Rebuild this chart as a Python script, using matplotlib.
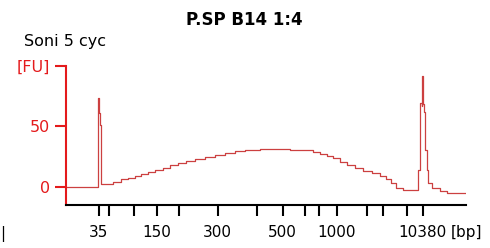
import numpy as np
from matplotlib import pyplot as plt

# ladder sizes (bp) and their migration times (s)
ladder_bp = [35, 50, 100, 150, 200, 300, 400, 500, 600, 700, 1000, 2000, 3000, 7000, 10380]
ladder_time = [46.5, 48.5, 53.6, 58.1, 62.5, 70.3, 78.1, 83.3, 87.7, 90.5, 94.1, 100.1, 103.3, 108.1, 111.3]
labelled_bp = [35, 150, 300, 500, 1000, 10380]

# electropherogram trace
trace_time = [40.0, 46.0, 46.3, 46.4, 46.5, 46.7, 46.9, 47.0, 49.4, 51.0, 52.4, 53.8,
              55.0, 56.4, 57.8, 59.4, 60.8, 62.4, 64.0, 65.8, 67.8, 69.8, 71.8, 73.8,
              75.8, 78.8, 84.8, 89.4, 90.8, 92.2, 93.4, 94.8, 96.2, 97.8, 99.4, 101.2,
              102.8, 104.0, 105.0, 106.0, 107.4, 110.0, 110.3, 110.7, 111.1, 111.25,
              111.4, 111.65, 111.85, 112.15, 112.45, 113.2, 114.8, 116.2, 120.0]
trace_fu = [0.2, 0.3, 15.6, 73.3, 61.0, 51.0, 49.6, 2.0, 4.3, 6.1, 7.4, 9.0,
            10.7, 12.3, 14.0, 16.0, 17.7, 19.4, 21.0, 22.7, 24.7, 26.4, 28.1, 29.3,
            30.5, 31.1, 30.1, 28.9, 27.3, 25.6, 23.6, 20.7, 18.2, 15.6, 13.2, 11.1,
            9.0, 6.1, 3.2, -0.9, -3.0, -2.5, 14.0, 69.0, 67.0, 91.7,
            68.5, 61.9, 30.5, 14.0, 3.2, -1.2, -3.4, -4.8, -4.8]

axis_red = '#e41a1c'
trace_red = '#cc4040'

fig = plt.figure(figsize=(4.9, 2.48), dpi=100)
ax = fig.add_axes([66 / 490, 1 - 205 / 248, 400 / 490, 139 / 248])

ax.plot(trace_time, trace_fu, color=trace_red, lw=0.9, drawstyle='steps-post')
ax.set_xlim(40, 120)
ax.set_ylim(-15, 100)

for s in ['top', 'right']:
    ax.spines[s].set_visible(False)
ax.spines['left'].set_color(axis_red)
ax.spines['left'].set_linewidth(1.5)
ax.spines['bottom'].set_color('black')
ax.spines['bottom'].set_linewidth(1.5)

ax.set_yticks([0, 50, 100])
ax.set_yticklabels(['0', '50', '[FU]'])
ax.tick_params(axis='y', colors=axis_red, length=8, width=1.5, pad=3.5, labelsize=11.5)

ax.set_xticks(ladder_time)
ax.set_xticklabels([str(b) if b in labelled_bp else '' for b in ladder_bp])
ax.tick_params(axis='x', colors='black', length=8, width=1.5, pad=6.5, labelsize=11)

fig.text(451 / 490, 1 - 233 / 248, '[bp]', fontsize=11, va='center', ha='left')
fig.text(244 / 490, 1 - 25 / 248, 'P.SP B14 1:4', fontsize=12, fontweight='bold',
         ha='center', va='baseline')
fig.text(24 / 490, 1 - 46 / 248, 'Soni 5 cyc', fontsize=11.5, ha='left', va='baseline')
fig.text(0.0, 1 - 234 / 248, '|', fontsize=11, ha='left', va='center')

fig.savefig('out.png', dpi=100)
